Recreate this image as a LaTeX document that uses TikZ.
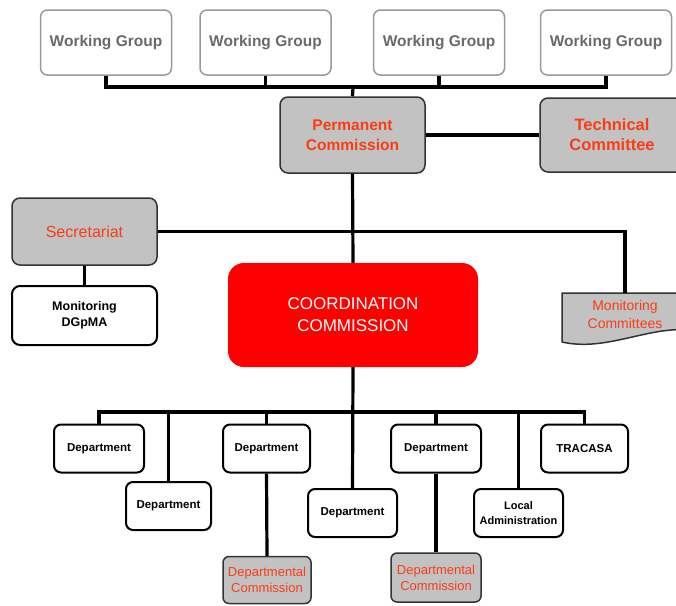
\documentclass[tikz,border=0pt]{standalone}
\usepackage{fontspec}
\setmainfont{Liberation Sans}
\definecolor{boxgray}{RGB}{194,194,194}
\definecolor{orgtext}{RGB}{250,60,20}
\definecolor{wgtext}{RGB}{105,105,105}
\definecolor{ccred}{RGB}{255,0,0}
\begin{document}
\begin{tikzpicture}[x=1pt, y=-1pt,
  every node/.style={align=center, inner sep=1pt},
  conn/.style={line width=3.2pt},
  wgbox/.style={draw=black!40, line width=1.5pt, rounded corners=7pt, minimum width=131pt, minimum height=65pt, text=wgtext, font=\fontsize{15.5}{19}\selectfont\bfseries},
  graybox/.style={draw=black!80, fill=boxgray, line width=1.5pt, rounded corners=8pt, text=orgtext},
  deptbox/.style={draw=black, line width=2pt, rounded corners=7pt, minimum height=48pt, font=\fontsize{11.5}{15}\selectfont\bfseries},
  dcbox/.style={graybox, minimum width=88pt, minimum height=47pt, rounded corners=6pt, font=\fontsize{13}{16}\selectfont}]
  \useasboundingbox (0,0) rectangle (676,605);
  \node[wgbox] (wg1) at (106,42.5) {Working Group};
  \node[wgbox] (wg2) at (265.5,42.5) {Working Group};
  \node[wgbox] (wg3) at (439,42.5) {Working Group};
  \node[wgbox] (wg4) at (606,42.5) {Working Group};
  \node[graybox, minimum width=145pt, minimum height=76pt, font=\fontsize{15.5}{20}\selectfont\bfseries] (pc) at (352.5,135) {Permanent\\Commission};
  \node[graybox, minimum width=144pt, minimum height=74pt, font=\fontsize{16.5}{20}\selectfont\bfseries] (tc) at (612,135) {Technical\\Committee};
  \node[graybox, minimum width=145pt, minimum height=67pt, font=\fontsize{16}{20}\selectfont] (sec) at (84.5,231.5) {Secretariat};
  \node[draw, line width=2pt, rounded corners=8pt, minimum width=145pt, minimum height=59pt, font=\fontsize{12.5}{16}\selectfont\bfseries] (mon) at (84.5,315.5) {Monitoring\\DGpMA};
  \node[fill=ccred, rounded corners=16pt, minimum width=250pt, minimum height=104pt, text=white, font=\fontsize{17}{22}\selectfont] (cc) at (353,315) {COORDINATION\\COMMISSION};
  \draw[fill=boxgray, draw=black!80, line width=1.5pt] (562,293) -- (690,293) -- (690,330) .. controls (648,326) and (606,352) .. (562,342) -- cycle;
  \node[minimum width=126pt, minimum height=42pt, text=orgtext, font=\fontsize{14}{18}\selectfont] (mcm) at (625,314) {Monitoring\\Committees};
  \node[deptbox, minimum width=90pt] (d1) at (99,448.5) {Department};
  \node[deptbox, minimum width=85pt] (d2) at (168.5,506) {Department};
  \node[deptbox, minimum width=87pt] (d3) at (266.5,448.5) {Department};
  \node[deptbox, minimum width=89pt] (d4) at (352.5,513) {Department};
  \node[deptbox, minimum width=90pt] (d5) at (436,448.5) {Department};
  \node[deptbox, minimum width=89pt, font=\fontsize{11}{15}\selectfont\bfseries] (la) at (518.5,513) {Local\\Administration};
  \node[deptbox, minimum width=87pt] (tra) at (584.5,448.5) {TRACASA};
  \node[dcbox] (dc1) at (267,580) {Departmental\\Commission};
  \node[dcbox, minimum width=90pt, minimum height=49pt] (dc2) at (436,577.5) {Departmental\\Commission};
  \coordinate (wbus) at (353,87);
  \coordinate (dbus) at (353,412);
  \draw[conn] (wg1.south) |- (wg4.south |- wbus) -- (wg4.south);
  \draw[conn] (wg2.south) -- (wg2.south |- wbus);
  \draw[conn] (wg3.south) -- (wg3.south |- wbus);
  \draw[conn] (wbus) -- (pc.north);
  \draw[conn] (pc.east) -- (tc.west);
  \draw[conn] (pc.south) -- (cc.north);
  \draw[conn] (sec.east) -| (mcm.north);
  \draw[conn] (sec.south) -- (mon.north);
  \draw[conn] (cc.south) -- (d4.north);
  \draw[conn] (d1.north) |- (tra.north |- dbus) -- (tra.north);
  \draw[conn] (d2.north) -- (d2.north |- dbus);
  \draw[conn] (d3.north) -- (d3.north |- dbus);
  \draw[conn] (d5.north) -- (d5.north |- dbus);
  \draw[conn] (la.north) -- (la.north |- dbus);
  \draw[conn] (d3.south) -- (dc1.north);
  \draw[conn] (d5.south) -- (dc2.north);
\end{tikzpicture}
\end{document}
